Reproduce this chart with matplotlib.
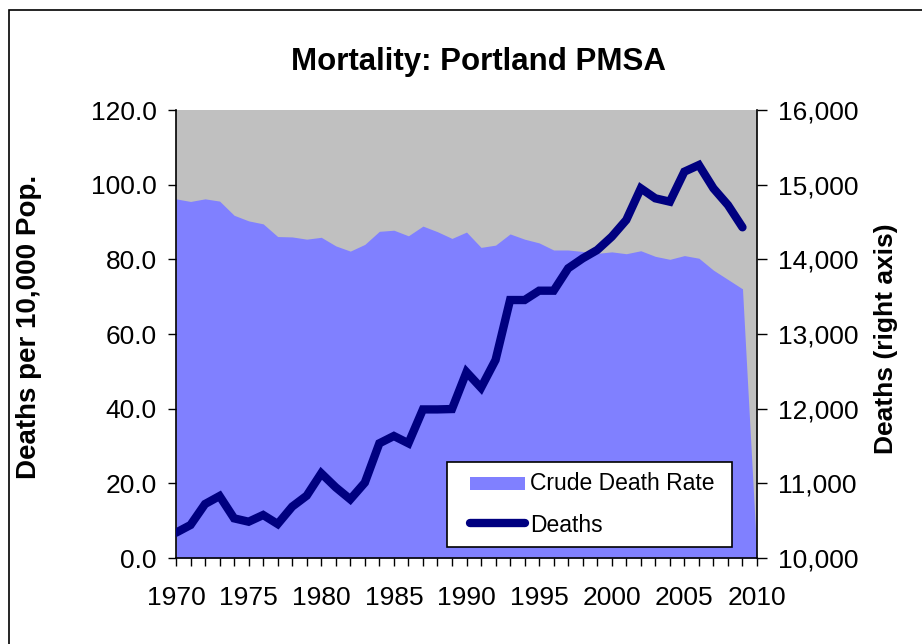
import matplotlib
matplotlib.use("Agg")
import matplotlib.pyplot as plt
from matplotlib.patches import Rectangle
from matplotlib.lines import Line2D
from matplotlib.ticker import FuncFormatter, MultipleLocator

plt.rcParams['font.family'] = ['Liberation Sans', 'DejaVu Sans']

years = list(range(1970, 2011))
crude_rate = [96.2, 95.5, 96.2, 95.6, 91.8, 90.3, 89.5, 86.1, 86.0, 85.4,
              85.9, 83.6, 82.2, 84.0, 87.5, 87.8, 86.3, 88.9, 87.4, 85.6,
              87.3, 83.2, 83.8, 86.8, 85.4, 84.4, 82.5, 82.5, 82.1, 81.6,
              82.0, 81.5, 82.3, 80.8, 80.0, 81.0, 80.3, 77.1, 74.6, 72.1,
              0.0]
death_years = list(range(1970, 2010))
deaths = [10339, 10442, 10723, 10830, 10531, 10486, 10576, 10455, 10688, 10835,
          11134, 10946, 10786, 11009, 11536, 11634, 11536, 11990, 11990, 11995,
          12490, 12280, 12652, 13455, 13455, 13580, 13580, 13880, 14013, 14125,
          14303, 14527, 14951, 14817, 14772, 15174, 15263, 14951, 14727, 14429]
legend_labels = ['Crude Death Rate', 'Deaths']

AREA_C = '#8080FF'
LINE_C = '#000080'

W, H = 922, 644
fig = plt.figure(figsize=(W / 100, H / 100), dpi=100)
fig.patch.set_facecolor('white')


def fx(px):
    return px / W


def fy(py):
    return 1 - py / H


# outer border
fig.add_artist(Rectangle((fx(9), -0.1), 2, fy(10) + 0.1, transform=fig.transFigure,
                         fill=False, edgecolor='black', linewidth=1.2, clip_on=False))

L, R, T, B = 176, 757, 110, 558
ax = fig.add_axes([fx(L), fy(B), (R - L) / W, (B - T) / H])
ax.set_facecolor('#C0C0C0')
ax.fill_between(years, crude_rate, 0, color=AREA_C, linewidth=0)
ax.set_xlim(1970, 2010)
ax.set_ylim(0, 120)
ax.yaxis.set_major_locator(MultipleLocator(20))
ax.yaxis.set_major_formatter(FuncFormatter(lambda v, p: f"{v:.1f}"))
ax.xaxis.set_major_locator(MultipleLocator(5))
ax.xaxis.set_minor_locator(MultipleLocator(1))
ax.tick_params(axis='both', which='both', direction='out', length=6, width=1,
               color='black', labelsize=19)
ax.tick_params(axis='x', which='major', pad=14)
ax.tick_params(axis='y', pad=8)
ax.spines['top'].set_visible(False)
ax.spines['right'].set_visible(False)
ax.spines['left'].set_linewidth(1.2)
ax.spines['bottom'].set_linewidth(1.2)

ax2 = ax.twinx()
ax2.plot(death_years, deaths, color=LINE_C, linewidth=6, solid_capstyle='round',
         solid_joinstyle='miter')
ax2.set_ylim(10000, 16000)
ax2.yaxis.set_major_locator(MultipleLocator(1000))
ax2.yaxis.set_major_formatter(FuncFormatter(lambda v, p: f"{int(v):,}"))
ax2.tick_params(axis='y', direction='out', length=7, width=1, labelsize=19, pad=8)
ax2.spines['top'].set_visible(False)
ax2.spines['left'].set_visible(False)
ax2.spines['bottom'].set_visible(False)
ax2.spines['right'].set_linewidth(1.2)

fig.text(fx(478), fy(62), "Mortality: Portland PMSA", ha='center', va='center',
         fontsize=22.5, fontweight='bold')
fig.text(fx(29), fy(327), "Deaths per 10,000 Pop.", ha='center', va='center',
         rotation=90, fontsize=20, fontweight='bold')
fig.text(fx(886), fy(339), "Deaths (right axis)", ha='center', va='center',
         rotation=90, fontsize=19, fontweight='bold')

# legend (drawn as figure artists)
fig.add_artist(Rectangle((fx(447), fy(547)), (732 - 447) / W, (547 - 462) / H,
                         transform=fig.transFigure, facecolor='white',
                         edgecolor='black', linewidth=1.2, zorder=10))
fig.add_artist(Rectangle((fx(470), fy(490)), (525 - 470) / W, (490 - 477) / H,
                         transform=fig.transFigure, facecolor=AREA_C,
                         edgecolor='none', zorder=11))
fig.add_artist(Line2D([fx(470), fx(525)], [fy(523), fy(523)], transform=fig.transFigure,
                      color=LINE_C, linewidth=6, solid_capstyle='round', zorder=11))
fig.text(fx(530), fy(484), legend_labels[0], ha='left', va='center', fontsize=16.5,
         zorder=12)
fig.text(fx(530), fy(525), legend_labels[1], ha='left', va='center', fontsize=16.5,
         zorder=12)

fig.savefig('out.png', dpi=100)
